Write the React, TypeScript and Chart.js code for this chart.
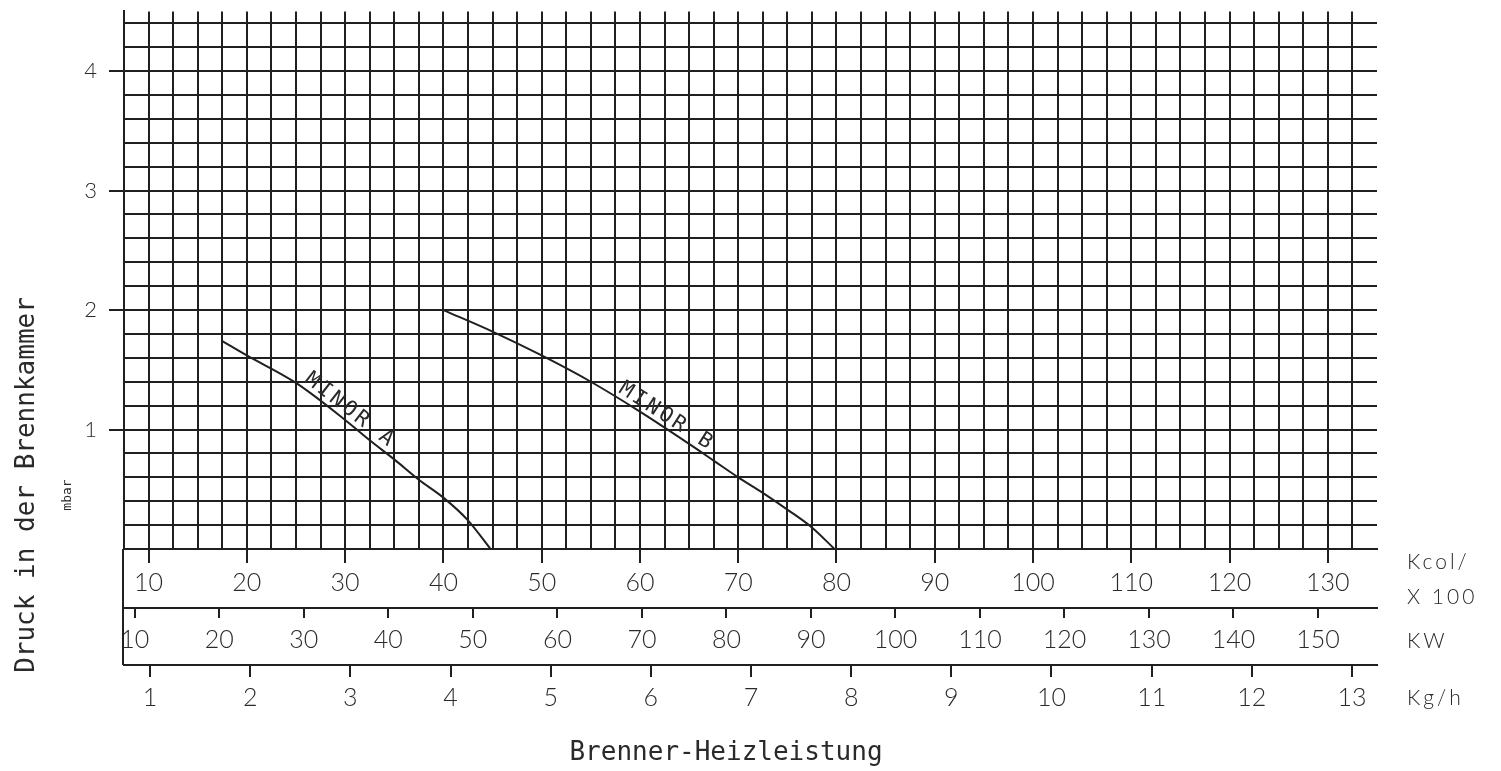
import React, { useEffect, useRef } from 'react';
import { Chart, registerables } from 'chart.js';

Chart.register(...registerables);

// ---- data ----
const KCAL_GRID = [
  7.5, 10, 12.5, 15, 17.5, 20, 22.5, 25, 27.5, 30, 32.5, 35, 37.5, 40, 42.5, 45, 47.5,
  50, 52.5, 55, 57.5, 60, 62.5, 65, 67.5, 70, 72.5, 75, 77.5, 80, 82.5, 85, 87.5, 90,
  92.5, 95, 97.5, 100, 102.5, 105, 107.5, 110, 112.5, 115, 117.5, 120, 122.5, 125,
  127.5, 130, 132.5,
];
const KCAL_LABELS = [10, 20, 30, 40, 50, 60, 70, 80, 90, 100, 110, 120, 130];
const KW_LABELS = [10, 20, 30, 40, 50, 60, 70, 80, 90, 100, 110, 120, 130, 140, 150];
const KGH_LABELS = [1, 2, 3, 4, 5, 6, 7, 8, 9, 10, 11, 12, 13];
const MBAR_GRID = [
  0, 0.2, 0.4, 0.6, 0.8, 1, 1.2, 1.4, 1.6, 1.8, 2, 2.2, 2.4, 2.6, 2.8, 3, 3.2, 3.4, 3.6,
  3.8, 4, 4.2, 4.4,
];
const MBAR_LABELS = [1, 2, 3, 4];

const SERIES_NAMES = ['MINOR A', 'MINOR B'];
const MINOR_A_KCAL = [17.5, 20, 25, 30, 32.5, 35, 37.5, 40, 42.5, 44.8];
const MINOR_A_MBAR = [1.74, 1.62, 1.39, 1.08, 0.91, 0.75, 0.58, 0.43, 0.24, 0];
const MINOR_B_KCAL = [40, 45, 50, 55, 60, 65, 67.5, 70, 72.5, 75, 77.5, 79.8];
const MINOR_B_MBAR = [2.0, 1.82, 1.62, 1.4, 1.15, 0.88, 0.74, 0.6, 0.47, 0.33, 0.18, 0];

// ---- styles ----
const INK = '#202020';
const TEXT = '#2a2a2a';
const CLEAR = 'rgba(0,0,0,0)';
const TICK_FAMILY = 'Lato, "DejaVu Sans", sans-serif';
const MONO = '"DejaVu Sans Mono", monospace';

const toPoints = (xs: number[], ys: number[]) => xs.map((x, i) => ({ x, y: ys[i] }));

const extrasPlugin = {
  id: 'extras',
  afterDraw(chart: any) {
    const { ctx, chartArea: ca, scales } = chart;
    const sx = scales.x;
    const sy = scales.y;
    const skw = scales.xkw;
    const skg = scales.xkg;
    ctx.save();

    // left frame continues through the lower scale bands
    ctx.strokeStyle = INK;
    ctx.lineWidth = 2;
    ctx.beginPath();
    ctx.moveTo(ca.left - 1, ca.bottom);
    ctx.lineTo(ca.left - 1, skg.top);
    ctx.stroke();

    ctx.fillStyle = TEXT;

    // unit captions on the right of the scale bands
    ctx.font = `300 21px ${TICK_FAMILY}`;
    (ctx as any).letterSpacing = '3px';
    ctx.textAlign = 'left';
    ctx.textBaseline = 'middle';
    const ux = ca.right + 30;
    ctx.fillText('Kcol/', ux, sx.top + 13);
    ctx.fillText('X 100', ux, sx.top + 48);
    ctx.fillText('KW', ux, skw.top + 33);
    ctx.fillText('Kg/h', ux, skg.top + 33);
    (ctx as any).letterSpacing = '0px';

    // x title
    ctx.font = `26px ${MONO}`;
    ctx.textAlign = 'center';
    ctx.fillText('Brenner-Heizleistung', ca.left + 602, skg.bottom + 38);

    // y title
    ctx.save();
    ctx.translate(ca.left - 97, ca.bottom - 64);
    ctx.rotate(-Math.PI / 2);
    ctx.fillText('Druck in der Brennkammer', 0, 0);
    ctx.restore();

    ctx.save();
    ctx.font = `13px ${MONO}`;
    ctx.translate(ca.left - 56, ca.bottom - 54);
    ctx.rotate(-Math.PI / 2);
    ctx.fillText('mbar', 0, 0);
    ctx.restore();

    // curve names written along the curves
    const along = (name: string, xs: number[], ys: number[], i0: number, i1: number, shift: number) => {
      const x0 = sx.getPixelForValue(xs[i0]);
      const y0 = sy.getPixelForValue(ys[i0]);
      const x1 = sx.getPixelForValue(xs[i1]);
      const y1 = sy.getPixelForValue(ys[i1]);
      const ang = Math.atan2(y1 - y0, x1 - x0);
      ctx.save();
      ctx.translate(x0, y0);
      ctx.rotate(ang);
      ctx.font = `21px ${MONO}`;
      (ctx as any).letterSpacing = '3px';
      ctx.textAlign = 'left';
      ctx.textBaseline = 'bottom';
      ctx.fillText(name, shift, -1);
      ctx.restore();
    };
    along(SERIES_NAMES[0], MINOR_A_KCAL, MINOR_A_MBAR, 2, 5, 5);
    along(SERIES_NAMES[1], MINOR_B_KCAL, MINOR_B_MBAR, 3, 6, 28);

    ctx.restore();
  },
};

export default function App() {
  const ref = useRef<HTMLCanvasElement>(null);

  useEffect(() => {
    if (!ref.current) return;
    const chart = new Chart(ref.current, {
      type: 'scatter',
      data: {
        datasets: [
          {
            label: SERIES_NAMES[0],
            data: toPoints(MINOR_A_KCAL, MINOR_A_MBAR),
            showLine: true,
            borderColor: INK,
            borderWidth: 2,
            pointRadius: 0,
            cubicInterpolationMode: 'monotone',
            xAxisID: 'x',
            yAxisID: 'y',
          },
          {
            label: SERIES_NAMES[1],
            data: toPoints(MINOR_B_KCAL, MINOR_B_MBAR),
            showLine: true,
            borderColor: INK,
            borderWidth: 2,
            pointRadius: 0,
            cubicInterpolationMode: 'monotone',
            xAxisID: 'x',
            yAxisID: 'y',
          },
        ],
      },
      options: {
        animation: false,
        responsive: false,
        devicePixelRatio: 1,
        layout: { padding: { left: 0, right: 124, top: 11.4, bottom: 56 } },
        plugins: { legend: { display: false }, tooltip: { enabled: false } },
        events: [],
        scales: {
          x: {
            type: 'linear',
            position: 'bottom',
            min: 7.5,
            max: 135,
            weight: 0,
            afterBuildTicks: (s: any) => {
              s.ticks = KCAL_GRID.map((v) => ({ value: v }));
            },
            afterFit: (s: any) => {
              s.height = 59;
              s.paddingLeft = 0;
              s.paddingRight = 0;
            },
            grid: {
              color: INK,
              lineWidth: 2,
              tickLength: 14,
              tickWidth: 2,
              tickColor: (c: any) => (c.tick && KCAL_LABELS.includes(c.tick.value) ? INK : CLEAR),
            },
            border: { display: true, color: INK, width: 2 },
            ticks: {
              autoSkip: false,
              maxRotation: 0,
              minRotation: 0,
              padding: 5,
              color: TEXT,
              font: { family: TICK_FAMILY, size: 25, weight: '300' },
              callback: (v: any) => (KCAL_LABELS.includes(v) ? String(v) : ''),
            },
          },
          xkw: {
            type: 'linear',
            axis: 'x',
            position: 'bottom',
            min: 8.72,
            max: 156.98,
            weight: 1,
            afterBuildTicks: (s: any) => {
              s.ticks = KW_LABELS.map((v) => ({ value: v }));
            },
            afterFit: (s: any) => {
              s.height = 57;
              s.paddingLeft = 0;
              s.paddingRight = 0;
            },
            grid: { drawOnChartArea: false, color: INK, lineWidth: 2, tickLength: 10, tickColor: INK },
            border: { display: true, color: INK, width: 2 },
            ticks: {
              autoSkip: false,
              maxRotation: 0,
              minRotation: 0,
              padding: 7,
              color: TEXT,
              font: { family: TICK_FAMILY, size: 25, weight: '300' },
              callback: (v: any) => String(v),
            },
          },
          xkg: {
            type: 'linear',
            axis: 'x',
            position: 'bottom',
            min: 0.74,
            max: 13.25,
            weight: 2,
            afterBuildTicks: (s: any) => {
              s.ticks = KGH_LABELS.map((v) => ({ value: v }));
            },
            afterFit: (s: any) => {
              s.height = 50;
              s.paddingLeft = 0;
              s.paddingRight = 0;
            },
            grid: { drawOnChartArea: false, color: INK, lineWidth: 2, tickLength: 12, tickColor: INK },
            border: { display: true, color: INK, width: 2 },
            ticks: {
              autoSkip: false,
              maxRotation: 0,
              minRotation: 0,
              padding: 6,
              color: TEXT,
              font: { family: TICK_FAMILY, size: 25, weight: '300' },
              callback: (v: any) => String(v),
            },
          },
          y: {
            type: 'linear',
            position: 'left',
            min: 0,
            max: 4.5,
            afterBuildTicks: (s: any) => {
              s.ticks = MBAR_GRID.map((v) => ({ value: v }));
            },
            afterFit: (s: any) => {
              s.width = 124;
              s.paddingTop = 0;
              s.paddingBottom = 0;
            },
            grid: {
              color: INK,
              lineWidth: 2,
              tickLength: 15,
              tickWidth: 2,
              tickColor: (c: any) => (c.tick && MBAR_LABELS.includes(c.tick.value) ? INK : CLEAR),
            },
            border: { display: true, color: INK, width: 2 },
            ticks: {
              autoSkip: false,
              padding: 12,
              color: TEXT,
              font: { family: TICK_FAMILY, size: 22, weight: '300' },
              callback: (v: any) => (MBAR_LABELS.includes(v) ? String(v) : ''),
            },
          },
        },
      } as any,
      plugins: [extrasPlugin],
    });
    return () => chart.destroy();
  }, []);

  return (
    <div style={{ position: 'absolute', left: 0, top: 0, width: 1501, height: 771, background: '#fff' }}>
      <canvas ref={ref} width={1501} height={771} style={{ display: 'block' }} />
    </div>
  );
}
